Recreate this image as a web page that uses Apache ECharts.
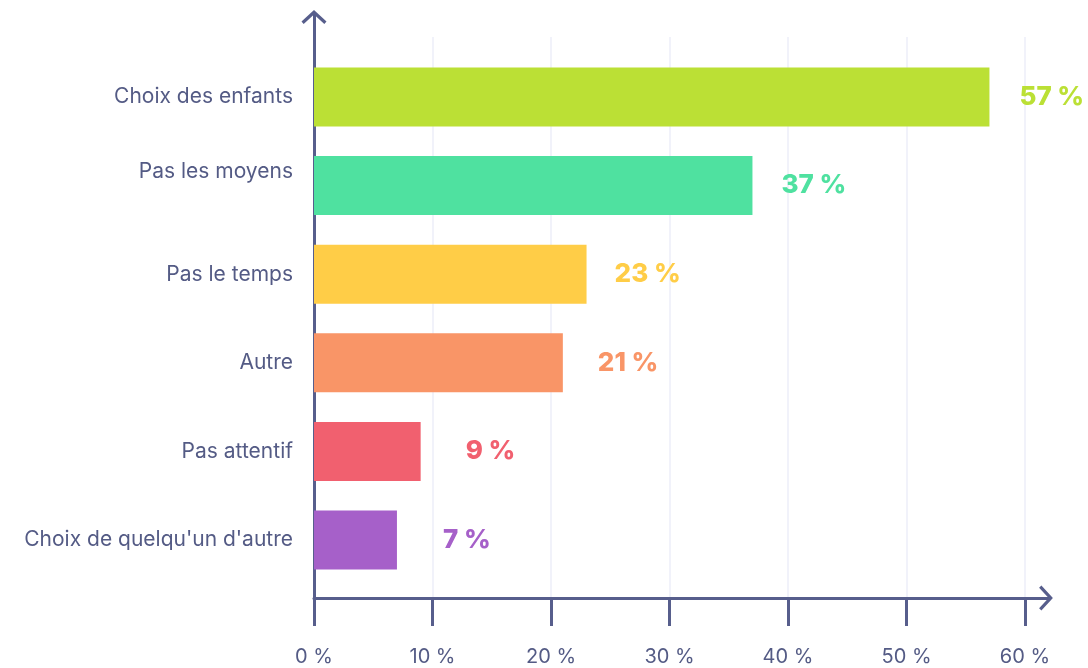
<!DOCTYPE html>
<html>
<head>
<meta charset="utf-8">
<script src="https://cdn.jsdelivr.net/npm/echarts@6/dist/echarts.min.js"></script>
<style>
  html, body { margin: 0; padding: 0; background: #ffffff; }
  #chart { width: 1088px; height: 668px; }
</style>
</head>
<body>
<div id="chart"></div>
<script>
// Reasons given, share of respondents (%)
const categories = [
  'Choix des enfants',
  'Pas les moyens',
  'Pas le temps',
  'Autre',
  'Pas attentif',
  "Choix de quelqu'un d'autre"
];
const values = [57, 37, 23, 21, 9, 7];
const tickValues = [0, 10, 20, 30, 40, 50, 60];

// Styling
const barColors = ['#bbe035', '#4fe1a0', '#ffcd47', '#f99567', '#f1606f', '#a660c9'];
const labelGap = [30, 29, 28, 35, 45, 46];
const liftedLabel = [false, true, false, false, false, false];
const axisColor = '#575e8c';
const textColor = '#545b85';
const fontFamily = 'Inter, "Noto Sans", sans-serif';

// Open chevron used as the arrow head on both axes (tip pointing along the axis)
const chevron = 'path://M0,11.5 L12.5,0 L25,11.5 L22.8,13.8 L12.5,4.3 L2.2,13.8 Z';

const chart = echarts.init(document.getElementById('chart'), null, { renderer: 'canvas' });

const option = {
  backgroundColor: '#ffffff',
  animation: false,
  grid: [
    // axis lines with arrows
    { left: 314, right: 38.5, top: 13.5, bottom: 70 },
    // ticks, tick labels and vertical grid lines
    { left: 314, right: 63, top: 37, bottom: 70 },
    // bars and category labels
    { left: 314, right: 63, top: 52.7, bottom: 83.7 }
  ],
  xAxis: [
    {
      gridIndex: 0, type: 'value', min: 0, max: 1,
      axisLine: {
        show: true, onZero: false,
        symbol: ['none', chevron], symbolSize: [25, 14], symbolOffset: [0, -3.5],
        lineStyle: { color: axisColor, width: 3 }
      },
      axisTick: { show: false }, axisLabel: { show: false }, splitLine: { show: false }
    },
    {
      gridIndex: 1, type: 'value', min: tickValues[0], max: tickValues[tickValues.length - 1], interval: 10,
      axisLine: { show: false },
      axisTick: { show: true, length: 28, lineStyle: { color: axisColor, width: 3 } },
      axisLabel: {
        show: true, margin: 49, formatter: '{value} %',
        color: textColor, fontSize: 20, fontFamily: fontFamily
      },
      splitLine: { show: true, lineStyle: { color: '#eceef8', width: 1.5 } }
    },
    {
      gridIndex: 2, type: 'value', min: tickValues[0], max: tickValues[tickValues.length - 1],
      show: false
    }
  ],
  yAxis: [
    {
      gridIndex: 0, type: 'value', min: 0, max: 1,
      axisLine: {
        show: true, onZero: false,
        symbol: ['none', chevron], symbolSize: [25, 14], symbolOffset: [0, -3.5],
        lineStyle: { color: axisColor, width: 3 }
      },
      axisTick: { show: false }, axisLabel: { show: false }, splitLine: { show: false }
    },
    { gridIndex: 1, type: 'value', show: false, splitLine: { show: false } },
    {
      gridIndex: 2, type: 'category', inverse: true, data: categories,
      axisLine: { show: false }, axisTick: { show: false },
      axisLabel: {
        margin: 21, color: textColor, fontSize: 21, fontFamily: fontFamily,
        formatter: function (name, idx) {
          return liftedLabel[idx] ? '{lift|' + name + '}' : '{plain|' + name + '}';
        },
        rich: {
          plain: { color: textColor, fontSize: 21, fontFamily: fontFamily },
          lift: { color: textColor, fontSize: 21, fontFamily: fontFamily, padding: [0, 0, 28, 0] }
        }
      }
    }
  ],
  series: [
    {
      type: 'bar',
      xAxisIndex: 2,
      yAxisIndex: 2,
      barWidth: 59,
      data: values.map(function (v, i) {
        return {
          value: v,
          itemStyle: { color: barColors[i] },
          label: { color: barColors[i], distance: labelGap[i] }
        };
      }),
      label: {
        show: true,
        position: 'right',
        formatter: '{c} %',
        fontSize: 26,
        fontWeight: 800,
        fontFamily: fontFamily
      }
    }
  ]
};

chart.setOption(option);
</script>
</body>
</html>
